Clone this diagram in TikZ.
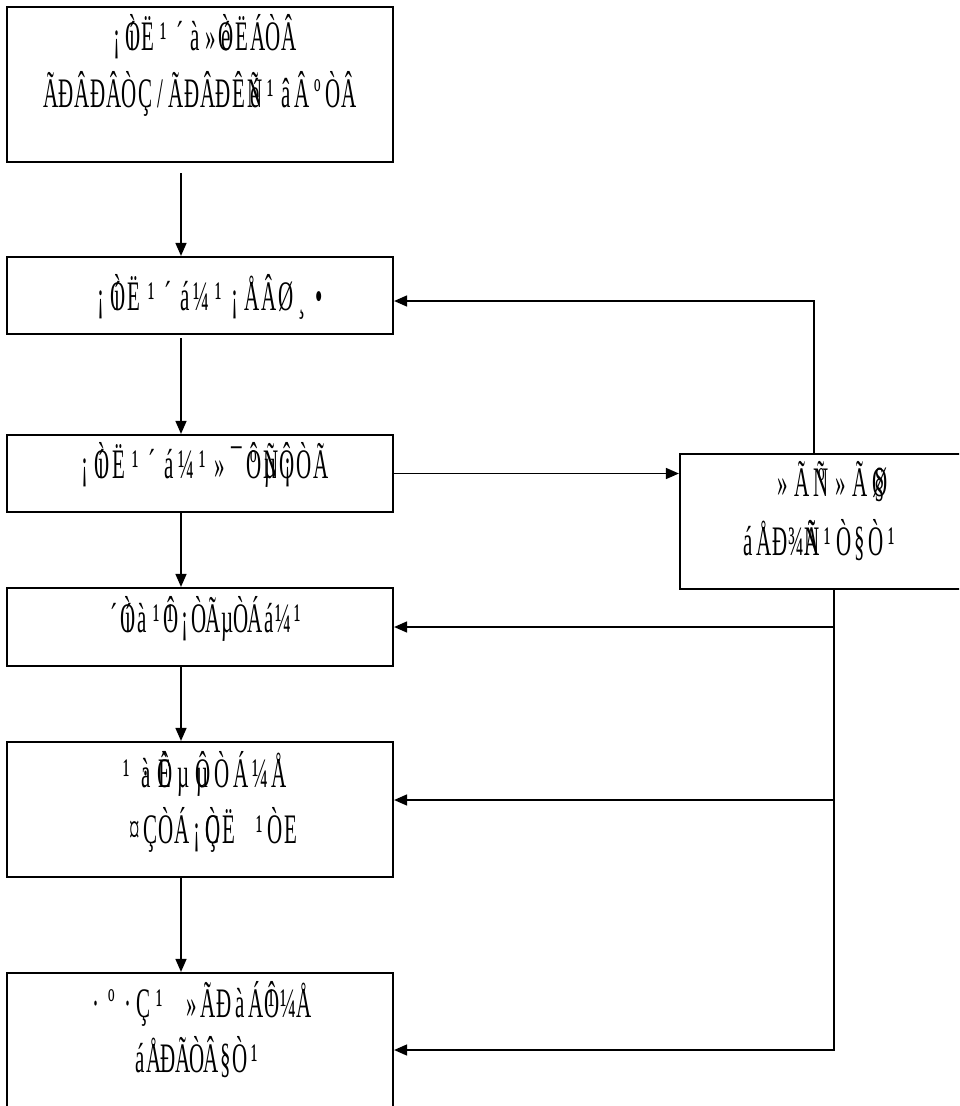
\documentclass[tikz,border=0pt]{standalone}
\usepackage{fontspec}
\usepackage{graphicx}
\setmainfont{Liberation Serif}
\usetikzlibrary{arrows.meta}
\newlength\cw
\def\Tend{TEND}
\def\Z{}
\newcommand\G[1]{\scalebox{1.0}[2.0]{#1}}
\def\Tloop#1{%
  \ifx#1\Tend\let\Tnext\relax
  \else\ifx#1\Z\let\Tnext\Tmark
  \else\makebox[\cw][c]{\G{#1}}\let\Tnext\Tloop
  \fi\fi\Tnext}
\def\Tmark#1{\rlap{\makebox[\cw][c]{\G{#1}}}\Tloop}
\newcommand\T[2]{\setlength\cw{#1pt}\Tloop#2\Tend}
\begin{document}
\begin{tikzpicture}[x=1pt,y=-1pt,
  boxnode/.style={draw,line width=2.2pt,inner sep=0pt},
  conn/.style={line width=1.6pt,-{Triangle[width=11pt,length=13pt]}},
  lbl/.style={anchor=base,inner sep=0pt,font=\fontsize{21}{24}\selectfont}]
\useasboundingbox (0,0) rectangle (959,1106);
\clip (0,0) rectangle (959,1106);
\fill[white] (0,0) rectangle (959,1106);
% boxes
\node[boxnode,minimum width=386pt,minimum height=155pt] (b1) at (200,84.5) {};
\node[boxnode,minimum width=386pt,minimum height=77pt] (b2) at (200,295.5) {};
\node[boxnode,minimum width=386pt,minimum height=77pt] (b3) at (200,473.5) {};
\node[boxnode,minimum width=386pt,minimum height=78pt] (b4) at (200,627) {};
\node[boxnode,minimum width=386pt,minimum height=135pt] (b5) at (200,809.5) {};
\node[boxnode,minimum width=386pt,minimum height=200pt] (b6) at (200,1073) {};
\node[boxnode,minimum width=320pt,minimum height=135pt] (rb) at (840,521.5) {};
% texts
\node[lbl] (t1a) at (203,50) {\T{15.6}{¡ \Z í Ò Ë ¹ ´ à » \Z é Ò Ë Á Ò Â}};
\node[lbl] (t1b) at (200,107) {\T{15.7}{Ã Ð Â Ð Â Ò Ç / Ã Ð Â Ð Ê \Z é Ñ ¹ â Â º Ò Â}};
\node[lbl] (t2) at (210,310) {\T{16.8}{¡ \Z í Ò Ë ¹ ´ á ¼ ¹ ¡ Å Â Ø ¸ •}};
\node[lbl] (t3) at (203,478) {\T{16.9}{¡ \Z í Ò Ë ¹ ´ á ¼ ¹ » ¯ \Z Ô º \Z Ñ µ \Z Ô ¡ Ò Ã}};
\node[lbl] (tra) at (831,496) {\T{19.5}{» Ã \Z Ñ º » Ã \Z Ø §}};
\node[lbl] (trb) at (820,555) {\T{16}{á Å Ð ¾ \Z Ñ Ã ¹ Ò § Ò ¹}};
\node[lbl] (t4) at (206,632) {\T{14.1}{´ \Z í Ò à ¹ \Z Ô ¹ ¡ Ò Ã µ Ò Á á ¼ ¹}};
\node[lbl] (t5a) at (203,787) {\T{19}{¹ \Z · à \Z Ô È µ \Z Ô µ Ò Á ¼ Å}};
\node[lbl] (t5b) at (213,843) {\T{15.6}{¤ Ç Ò Á ¡ \Z Ç Ò Ë ~ ¹ Ò E}};
\node[lbl] (t6a) at (200,1017) {\T{16}{· º · Ç ¹ ~ » Ã Ð à Á \Z Ô ¹ ¼ Å}};
\node[lbl] (t6b) at (197,1072) {\T{14.3}{á Å Ð Ã Ò Â § Ò ¹}};
% main flow
\coordinate (ax) at (181,0);
\coordinate (s1) at (181,173);
\coordinate (s2) at (181,338);
\draw[conn] (s1) -- (s1 |- b2.north);
\draw[conn] (s2) -- (s2 |- b3.north);
\draw[conn] (b3.south -| ax) -- (b4.north -| ax);
\draw[conn] (b4.south -| ax) -- (b5.north -| ax);
\draw[conn] (b5.south -| ax) -- (b6.north -| ax);
% feedback
\coordinate (ft) at (814,301);
\draw[conn] (rb.north -| ft) -- (ft) -- (ft -| b2.east);
\draw[conn] (b3.east) -- (b3.east -| rb.west);
\coordinate (fb) at (834,1050);
\draw[conn] (rb.south -| fb) -- (fb) -- (fb -| b6.east);
\draw[conn] (b4.east -| fb) -- (b4.east);
\coordinate (j5) at (834,800);
\draw[conn] (j5) -- (j5 -| b5.east);
\end{tikzpicture}
\end{document}
